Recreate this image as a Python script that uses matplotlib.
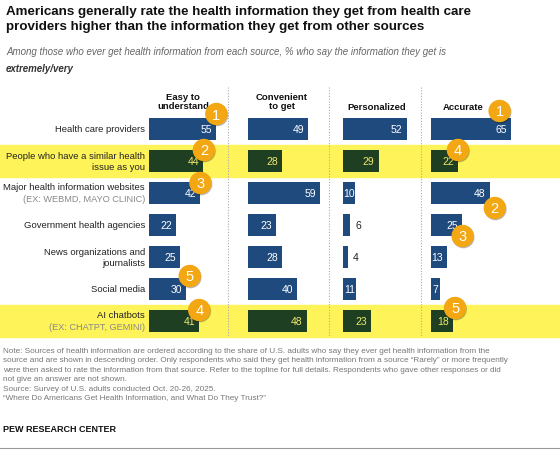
import matplotlib
matplotlib.use("Agg")
import matplotlib.pyplot as plt
from matplotlib.patches import Rectangle, Circle

sources = ["Health care providers", "People who have a similar health\nissue as you",
           "Major health information websites", "Government health agencies",
           "News organizations and\njournalists", "Social media", "AI chatbots"]
sub_labels = ["", "", "(EX: WEBMD, MAYO CLINIC)", "", "", "", "(EX: CHATPT, GEMINI)"]
highlight = [False, True, False, False, False, False, True]
columns = ["Easy to\nunderstand", "Convenient\nto get", "Personalized", "Accurate"]
easy = [55, 44, 42, 22, 25, 30, 41]
convenient = [49, 28, 59, 23, 28, 40, 48]
personalized = [52, 29, 10, 6, 4, 11, 23]
accurate = [65, 22, 48, 25, 13, 7, 18]
values = [easy, convenient, personalized, accurate]
# rank badges: (column, row, rank)
ranks = [(0, 0, 1), (0, 1, 2), (0, 2, 3), (0, 6, 4), (0, 5, 5),
         (3, 0, 1), (3, 2, 2), (3, 3, 3), (3, 1, 4), (3, 6, 5)]
badge_offsets = {(0, 0): (0, -15), (0, 1): (1, -11), (0, 2): (0, -10), (0, 6): (0, -11), (0, 5): (4, -13),
                 (3, 0): (-11, -18), (3, 2): (5, 15), (3, 3): (1, 11), (3, 1): (0, -11), (3, 6): (2, -13)}

W, H = 560, 452
fig = plt.figure(figsize=(W/100, H/100), dpi=100)
ax = fig.add_axes([0, 0, 1, 1])
ax.set_xlim(0, W); ax.set_ylim(H, 0); ax.axis("off")
F = "Liberation Sans"

row_y = [130, 162, 194, 226, 258, 290, 322]
col_x = [149, 248, 343, 431]
scale = 1.225
bh = 22
blue, green, yel, orange = "#1f4a7e", "#1f3f22", "#fff35a", "#f3a712"

for i, h in enumerate(highlight):
    if h:
        ax.add_patch(Rectangle((0, row_y[i]-16), W, 32, color=yel, zorder=0))

for sx in [228, 329, 421]:
    ax.plot([sx, sx], [88, 338], color="#aaaaaa", lw=0.8, ls=(0, (1, 1.5)), zorder=1)

for c, vals in enumerate(values):
    widths = [v*scale for v in vals]
    colors = [green if h else blue for h in highlight]
    ax.barh(row_y, widths, left=col_x[c], height=bh, color=colors, lw=0, zorder=2)
    for i, v in enumerate(vals):
        end = col_x[c] + v*scale
        tc = "#f0e870" if highlight[i] else "white"
        if v < 7:
            ax.text(end+5, row_y[i], str(v), ha="left", va="center", fontsize=7.5, family=F, color="#222222", zorder=3)
        else:
            xr = max(end-4, col_x[c] + len(str(v))*5 + 2)
            ax.text(xr, row_y[i]+0.5, str(v), ha="right", va="center", fontsize=7.5, family=F, color=tc, zorder=3)
    hy = 107 if "\n" not in columns[c] else 102
    ax.text(col_x[c] + 34 if c < 3 else 463, hy, columns[c], ha="center", va="center", fontsize=6.8,
            weight="bold", family=F, linespacing=1.1, color="#111111")

for c, i, r in ranks:
    dx, dy = badge_offsets[(c, i)]
    v = values[c][i]
    bx = col_x[c] + v*scale + dx
    by = row_y[i] + dy
    ax.add_patch(Circle((bx+0.8, by+1.2), 10.5, color="#00000030", zorder=4))
    ax.add_patch(Circle((bx, by), 10.5, color=orange, zorder=5))
    ax.text(bx, by+0.5, str(r), ha="center", va="center", fontsize=10.5, color="white", family=F, zorder=6)

for i, s in enumerate(sources):
    if sub_labels[i]:
        ax.text(145, row_y[i]-6, s, ha="right", va="center", fontsize=6.8, family=F, color="#222222")
        ax.text(145, row_y[i]+6, sub_labels[i], ha="right", va="center", fontsize=6.6, family=F, color="#888888")
    else:
        ax.text(145, row_y[i], s, ha="right", va="center", fontsize=6.8, family=F, color="#222222", linespacing=1.3)

ax.text(6, 6, "Americans generally rate the health information they get from health care\nproviders higher than the information they get from other sources",
        ha="left", va="top", fontsize=9.6, weight="bold", family=F, color="#111111", linespacing=1.3)
ax.text(6, 52, "Among those who ever get health information from each source, % who say the information they get is",
        ha="left", va="center", fontsize=7.0, style="italic", family=F, color="#666666")
ax.text(6, 69, "extremely/very", ha="left", va="center", fontsize=7.0, style="italic", weight="bold", family=F, color="#333333")

note = ("Note: Sources of health information are ordered according to the share of U.S. adults who say they ever get health information from the\n"
        "source and are shown in descending order. Only respondents who said they get health information from a source \u201cRarely\u201d or more frequently\n"
        "were then asked to rate the information from that source. Refer to the topline for full details. Respondents who gave other responses or did\n"
        "not give an answer are not shown.\n"
        "Source: Survey of U.S. adults conducted Oct. 20-26, 2025.\n"
        "\u201cWhere Do Americans Get Health Information, and What Do They Trust?\u201d")
ax.text(3, 348, note, ha="left", va="top", fontsize=5.9, family=F, color="#777777", linespacing=1.5)
ax.text(3, 430, "PEW RESEARCH CENTER", ha="left", va="center", fontsize=6.5, weight="bold", family=F, color="#111111")
ax.plot([0, W], [449, 449], color="#999999", lw=0.8)

fig.savefig("out.png", dpi=100)
